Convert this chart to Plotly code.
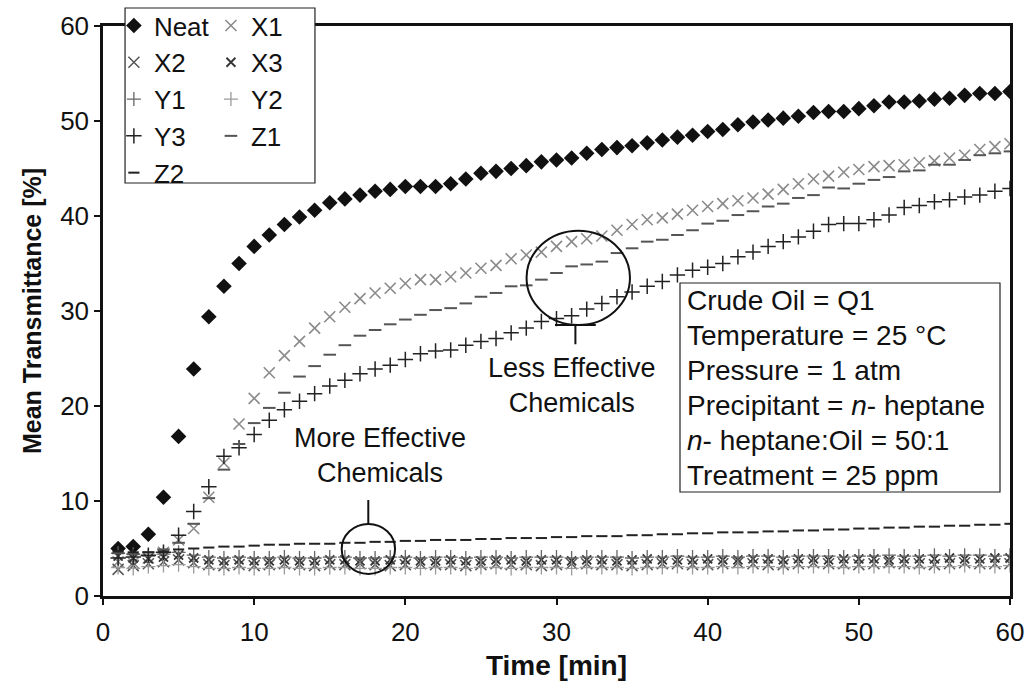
import plotly.graph_objects as go

# Time axis (minutes) and mean transmittance (%) of each sample
time_min = list(range(1, 61))

neat = [5.0, 5.2, 6.5, 10.4, 16.8, 23.9, 29.4, 32.6, 35.0, 36.8,
        38.0, 39.1, 39.9, 40.6, 41.4, 41.8, 42.2, 42.6, 42.8, 43.1,
        43.1, 43.1, 43.4, 43.9, 44.5, 44.7, 45.0, 45.3, 45.7, 45.9,
        46.1, 46.6, 47.0, 47.2, 47.4, 47.7, 48.0, 48.3, 48.5, 48.9,
        49.1, 49.6, 49.9, 50.1, 50.3, 50.5, 50.9, 51.0, 51.0, 51.3,
        51.6, 52.0, 52.0, 52.1, 52.3, 52.4, 52.7, 52.9, 52.9, 53.1]

x1 = [3.6, 3.5, 4.0, 4.6, 5.9, 7.1, 10.4, 14.0, 18.1, 20.8,
      23.5, 25.3, 26.8, 28.2, 29.4, 30.4, 31.3, 31.9, 32.4, 32.9,
      33.3, 33.3, 33.6, 34.0, 34.5, 34.8, 35.5, 35.9, 36.2, 36.8,
      37.3, 37.6, 37.9, 38.5, 39.1, 39.6, 39.8, 40.2, 40.6, 41.0,
      41.3, 41.6, 41.9, 42.3, 42.8, 43.4, 43.9, 44.2, 44.6, 44.9,
      45.2, 45.3, 45.4, 45.6, 45.8, 46.1, 46.4, 47.0, 47.3, 47.6]

x2 = [2.8, 3.2, 3.4, 3.6, 3.8, 3.5, 3.3, 3.2, 3.3, 3.2,
      3.3, 3.4, 3.3, 3.2, 3.3, 3.3, 3.4, 3.3, 3.2, 3.3,
      3.4, 3.3, 3.3, 3.2, 3.3, 3.4, 3.3, 3.3, 3.2, 3.3,
      3.4, 3.4, 3.3, 3.3, 3.2, 3.3, 3.4, 3.4, 3.3, 3.3,
      3.4, 3.5, 3.4, 3.3, 3.3, 3.4, 3.5, 3.4, 3.4, 3.3,
      3.4, 3.5, 3.4, 3.4, 3.3, 3.4, 3.5, 3.4, 3.4, 3.4]

x3 = [4.2, 4.0, 3.9, 4.1, 4.3, 4.0, 3.8, 3.7, 3.8, 3.7,
      3.7, 3.8, 3.7, 3.7, 3.8, 3.8, 3.7, 3.7, 3.8, 3.8,
      3.7, 3.7, 3.8, 3.7, 3.7, 3.8, 3.8, 3.7, 3.8, 3.8,
      3.7, 3.8, 3.8, 3.7, 3.8, 3.9, 3.8, 3.8, 3.8, 3.9,
      3.8, 3.8, 3.9, 3.9, 3.8, 3.9, 3.9, 3.8, 3.9, 3.9,
      3.9, 3.8, 3.9, 3.9, 3.9, 4.0, 3.9, 3.9, 4.0, 4.0]

y1 = [4.5, 4.4, 4.2, 4.4, 4.6, 4.3, 4.1, 4.0, 4.1, 4.0,
      4.0, 4.1, 4.0, 4.0, 4.1, 4.1, 4.0, 4.0, 4.1, 4.1,
      4.0, 4.1, 4.1, 4.0, 4.1, 4.1, 4.0, 4.1, 4.1, 4.1,
      4.0, 4.1, 4.1, 4.1, 4.0, 4.1, 4.1, 4.2, 4.1, 4.1,
      4.2, 4.1, 4.2, 4.2, 4.1, 4.2, 4.2, 4.2, 4.1, 4.2,
      4.2, 4.3, 4.2, 4.2, 4.3, 4.2, 4.3, 4.3, 4.2, 4.3]

y2 = [3.0, 2.9, 3.1, 3.2, 3.3, 3.1, 2.9, 2.9, 3.0, 2.9,
      2.9, 3.0, 2.9, 2.9, 3.0, 3.0, 2.9, 2.9, 3.0, 3.0,
      2.9, 3.0, 3.0, 2.9, 3.0, 3.0, 2.9, 3.0, 3.0, 3.0,
      2.9, 3.0, 3.0, 3.0, 2.9, 3.0, 3.0, 3.1, 3.0, 3.0,
      3.1, 3.0, 3.1, 3.1, 3.0, 3.1, 3.1, 3.1, 3.0, 3.1,
      3.1, 3.1, 3.1, 3.0, 3.1, 3.1, 3.2, 3.1, 3.1, 3.2]

y3 = [4.0, 4.1, 4.3, 4.6, 6.4, 8.9, 11.5, 14.7, 15.6, 17.0,
      18.5, 19.6, 20.5, 21.3, 22.1, 22.7, 23.4, 23.9, 24.3, 24.9,
      25.5, 25.8, 25.9, 26.4, 26.8, 27.1, 27.7, 28.2, 28.9, 29.2,
      29.5, 30.2, 30.8, 31.5, 32.0, 32.6, 33.1, 33.8, 34.3, 34.6,
      35.0, 35.7, 36.2, 36.8, 37.3, 37.8, 38.4, 39.1, 39.2, 39.2,
      39.6, 40.1, 40.9, 41.1, 41.5, 41.7, 42.0, 42.2, 42.6, 42.9]

z1 = [4.5, 4.4, 4.6, 4.9, 5.6, 7.6, 10.3, 13.3, 16.0, 18.2,
      19.8, 21.4, 23.1, 24.2, 25.4, 26.4, 27.4, 28.0, 28.6, 29.1,
      29.6, 30.1, 30.3, 30.8, 31.5, 31.9, 32.6, 32.7, 33.3, 34.0,
      34.7, 34.9, 35.2, 36.1, 36.6, 37.3, 37.5, 38.0, 38.5, 39.2,
      39.5, 40.1, 40.5, 41.0, 41.3, 41.9, 42.2, 43.0, 42.9, 43.4,
      43.8, 44.1, 44.7, 44.8, 45.4, 45.4, 45.9, 46.4, 46.6, 46.8]

z2 = [4.7, 4.6, 4.6, 4.7, 4.9, 5.0, 5.1, 5.2, 5.2, 5.3,
      5.4, 5.4, 5.5, 5.5, 5.5, 5.6, 5.6, 5.7, 5.7, 5.8,
      5.8, 5.9, 5.9, 5.9, 6.0, 6.0, 6.1, 6.1, 6.1, 6.2,
      6.2, 6.3, 6.3, 6.3, 6.4, 6.4, 6.5, 6.5, 6.6, 6.6,
      6.7, 6.7, 6.7, 6.8, 6.8, 6.9, 6.9, 7.0, 7.0, 7.1,
      7.1, 7.2, 7.2, 7.3, 7.3, 7.4, 7.4, 7.5, 7.5, 7.6]

conditions = ["Crude Oil = Q1",
              "Temperature = 25 °C",
              "Pressure = 1 atm",
              "Precipitant = <i>n</i>- heptane",
              "<i>n</i>- heptane:Oil = 50:1",
              "Treatment = 25 ppm"]

FONT = "Arial, 'Liberation Sans', sans-serif"

# name, values, symbol, size, colour, line width, legend column
series = [
    ("Neat", neat, "diamond", 12, "#111111", 0, "legend"),
    ("X1", x1, "x-thin", 11, "#8a8a8a", 1.6, "legend2"),
    ("X2", x2, "x-thin", 11, "#555555", 1.5, "legend"),
    ("X3", x3, "x-thin", 9, "#333333", 1.8, "legend2"),
    ("Y1", y1, "cross-thin", 10, "#666666", 1.3, "legend"),
    ("Y2", y2, "cross-thin", 10, "#9a9a9a", 1.3, "legend2"),
    ("Y3", y3, "cross-thin", 11, "#222222", 1.5, "legend"),
    ("Z1", z1, "line-ew", 9, "#555555", 2.0, "legend2"),
    ("Z2", z2, "line-ew", 8, "#222222", 2.0, "legend"),
]

fig = go.Figure()
for name, vals, sym, size, col, lw, leg in series:
    marker = dict(symbol=sym, size=size, color=col)
    if lw:
        marker["line"] = dict(color=col, width=lw)
    fig.add_trace(go.Scatter(x=time_min, y=vals, mode="markers", name=name,
                             marker=marker, legend=leg, legendgroup=name))

legend_common = dict(font=dict(family=FONT, size=26, color="#111"),
                     bgcolor="rgba(0,0,0,0)", borderwidth=0,
                     yanchor="top", xanchor="left", tracegroupgap=0,
                     itemsizing="trace")

fig.update_layout(
    width=1025, height=697,
    margin=dict(l=103, r=15, t=26, b=101, autoexpand=False),
    paper_bgcolor="white", plot_bgcolor="white",
    font=dict(family=FONT, color="#111"),
    showlegend=True,
    legend=dict(x=0.012, y=1.042, **legend_common),
    legend2=dict(x=0.119, y=1.042, **legend_common),
    xaxis=dict(range=[0, 60], tick0=0, dtick=10, showgrid=False, zeroline=False,
               showline=True, linecolor="#111", linewidth=2.5, mirror=True,
               ticks="outside", ticklen=6, tickwidth=1.5, tickcolor="#111",
               ticklabelstandoff=5,
               tickfont=dict(family=FONT, size=26),
               title=dict(text="<b>Time [min]</b>", font=dict(family=FONT, size=28),
                          standoff=10)),
    yaxis=dict(range=[0, 60], tick0=0, dtick=10, showgrid=False, zeroline=False,
               showline=True, linecolor="#111", linewidth=2.5, mirror=True,
               ticks="outside", ticklen=6, tickwidth=1.5, tickcolor="#111",
               tickfont=dict(family=FONT, size=26),
               title=dict(text="<b>Mean Transmittance [%]</b>",
                          font=dict(family=FONT, size=25), standoff=12)),
)

# Legend frame
fig.add_shape(type="rect", xref="paper", yref="paper",
              x0=0.0243, x1=0.2337, y0=0.7246, y1=1.0316,
              line=dict(color="#222", width=1.2), fillcolor="white", layer="above")

# Circles marking the two groups of chemicals, with their pointer ticks
fig.add_shape(type="circle", xref="x", yref="y", x0=15.79, x1=19.32, y0=2.32, y1=7.58,
              line=dict(color="#111", width=2))
fig.add_shape(type="line", xref="x", yref="y", x0=17.55, x1=17.55, y0=7.58, y1=10.1,
              line=dict(color="#111", width=2))
fig.add_shape(type="circle", xref="x", yref="y", x0=28.02, x1=34.86, y0=28.53, y1=38.45,
              line=dict(color="#111", width=2))
fig.add_shape(type="line", xref="x", yref="y", x0=31.25, x1=31.25, y0=28.53, y1=26.5,
              line=dict(color="#111", width=2))
fig.add_shape(type="line", xref="x", yref="y", x0=29.9, x1=32.6, y0=28.53, y1=28.53,
              line=dict(color="#111", width=2))

fig.add_annotation(x=18.3, y=14.8, xref="x", yref="y", showarrow=False,
                   text="More Effective<br>Chemicals",
                   font=dict(family=FONT, size=27, color="#111"))
fig.add_annotation(x=31.0, y=22.2, xref="x", yref="y", showarrow=False,
                   text="Less Effective<br>Chemicals",
                   font=dict(family=FONT, size=27, color="#111"))

# Experimental conditions box
fig.add_shape(type="rect", xref="paper", yref="paper",
              x0=(680 - 103) / 907, x1=(1000 - 103) / 907,
              y0=(596 - 492) / 570, y1=(596 - 283) / 570,
              line=dict(color="#222", width=1.2), fillcolor="white", layer="above")
for i, line in enumerate(conditions):
    fig.add_annotation(x=(685 - 103) / 907, y=(596 - (300 + 35 * i)) / 570,
                       xref="paper", yref="paper", xanchor="left", yanchor="middle",
                       showarrow=False, text=line,
                       font=dict(family=FONT, size=28, color="#111"))

fig.write_html("out.html")
